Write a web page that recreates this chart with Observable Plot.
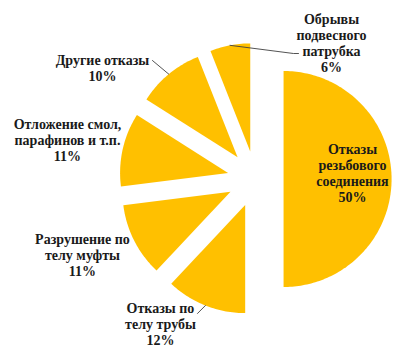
<!DOCTYPE html>
<html>
<head>
<meta charset="utf-8">
<script src="https://cdn.jsdelivr.net/npm/d3@7"></script>
<script src="https://cdn.jsdelivr.net/npm/@observablehq/plot@0.6"></script>
<style>
  html, body { margin: 0; padding: 0; background: #fff; font-family: "Liberation Serif", "Times New Roman", serif; }
  #chart svg { display: block; }
</style>
</head>
<body>
<div id="chart"></div>
<script>
// ---- data ----
const categories = [
  "Отказы резьбового соединения",
  "Отказы по телу трубы",
  "Разрушение по телу муфты",
  "Отложение смол, парафинов и т.п.",
  "Другие отказы",
  "Обрывы подвесного патрубка"
];
const shares = [50, 12, 11, 11, 10, 6];
const labelText = [
  "Отказы\nрезьбового\nсоединения",
  "Отказы по\nтелу трубы",
  "Разрушение по\nтелу муфты",
  "Отложение смол,\nпарафинов и т.п.",
  "Другие отказы",
  "Обрывы\nподвесного\nпатрубка"
];

// ---- layout (in units of pie radius, relative to pie centre) ----
const explode = 0.26;
const labelOffset = [
  [0.898, 0.060],
  [-0.880, -1.343],
  [-1.602, -0.704],
  [-1.741, 0.366],
  [-1.417, 1.028],
  [0.704, 1.259]
];
const leaderEnds = [
  null,
  [[-0.537, -1.245]],
  null,
  null,
  [[-0.954, 1.097]],
  [[0.352, 1.162], [0.398, 1.162]]
];

// ---- build slices ----
const total = d3.sum(shares);
const slices = [];
const labels = [];
const leaders = [];
let acc = 0;
categories.forEach((c, i) => {
  const a0 = acc / total * 2 * Math.PI;
  acc += shares[i];
  const a1 = acc / total * 2 * Math.PI;
  const am = (a0 + a1) / 2;
  const cx = explode * Math.sin(am), cy = explode * Math.cos(am);
  slices.push({cat: c, x: cx, y: cy});
  const n = Math.max(8, Math.ceil((a1 - a0) / 0.02));
  for (let k = 0; k <= n; k++) {
    const a = a0 + (a1 - a0) * k / n;
    slices.push({cat: c, x: cx + Math.sin(a), y: cy + Math.cos(a)});
  }
  labels.push({cat: c, text: labelText[i] + "\n" + shares[i] + "%", x: labelOffset[i][0], y: labelOffset[i][1]});
  if (leaderEnds[i]) {
    leaders.push({cat: c, x: cx + Math.sin(am), y: cy + Math.cos(am)});
    leaderEnds[i].forEach(p => leaders.push({cat: c, x: p[0], y: p[1]}));
  }
});

const R = 108;
const W = 404, H = 355;
const ox = 255, oy = 178.5;

const chart = Plot.plot({
  width: W,
  height: H,
  margin: 0,
  x: {domain: [-ox / R, (W - ox) / R], range: [0, W], axis: null},
  y: {domain: [-(H - oy) / R, oy / R], range: [H, 0], axis: null},
  marks: [
    Plot.line(slices, {x: "x", y: "y", z: "cat", fill: "#FFC000", stroke: "none", curve: "linear"}),
    Plot.line(leaders, {x: "x", y: "y", z: "cat", stroke: "#404040", strokeWidth: 0.9}),
    Plot.text(labels, {
      x: "x", y: "y", text: "text",
      fontFamily: "Liberation Serif",
      fontWeight: "bold", fontSize: 14, lineHeight: 1.15,
      fill: "#1a1a1a"
    })
  ]
});
const st = document.createElementNS("http://www.w3.org/2000/svg", "style");
st.textContent = "text, tspan { font-family: 'Liberation Serif', 'Times New Roman', serif !important; }";
chart.prepend(st);
document.getElementById("chart").append(chart);
</script>
</body>
</html>
